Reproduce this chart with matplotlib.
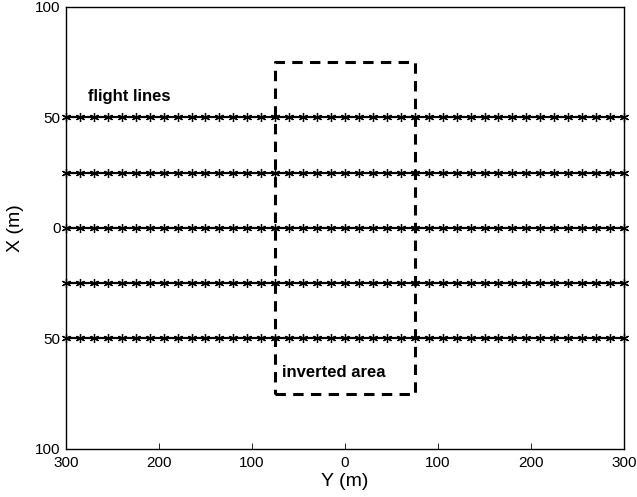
import matplotlib
matplotlib.use("Agg")
import matplotlib.pyplot as plt
import numpy as np

plt.rcParams["font.family"] = ["Liberation Sans", "DejaVu Sans"]

# survey geometry (m)
line_x = [-50, -25, 0, 25, 50]          # flight line positions along X
station_y = np.arange(-300, 301, 15)    # measurement stations along each line
area_y = [-75, 75]                      # inverted area, Y extent
area_x = [-75, 75]                      # inverted area, X extent

xticks = [-300, -200, -100, 0, 100, 200, 300]
yticks = [-100, -50, 0, 50, 100]

fig = plt.figure(figsize=(6.37, 4.97), dpi=100)
ax = fig.add_axes([0.1036, 0.0966, 0.876, 0.8894])

for xl in line_x:
    ax.plot(station_y, np.full_like(station_y, xl, dtype=float), color="black",
            lw=1.6, marker=(6, 2, 0), ms=6.5, mew=0.9, clip_on=False)

ax.plot([area_y[0], area_y[1], area_y[1], area_y[0], area_y[0]],
        [area_x[0], area_x[0], area_x[1], area_x[1], area_x[0]],
        color="black", lw=2.2, ls=(0, (3.4, 2.4)))

ax.text(-276, 59.5, "flight lines", fontsize=12, fontweight="bold", va="center")
ax.text(-68, -65.5, "inverted area", fontsize=12, fontweight="bold", va="center")

ax.set_xlim(-300, 300)
ax.set_ylim(-100, 100)
ax.set_xticks(xticks)
ax.set_xticklabels([f"{abs(t)}" for t in xticks])
ax.set_yticks(yticks)
ax.set_yticklabels([f"{abs(t)}" for t in yticks])
ax.tick_params(direction="in", length=4, width=0.6, labelsize=11, pad=4)
ax.tick_params(axis="x", pad=5)
ax.set_xlabel("Y (m)", fontsize=14, labelpad=2)
ax.set_ylabel("X (m)", fontsize=14, labelpad=8)
for s in ax.spines.values():
    s.set_linewidth(1.0)

fig.savefig("out.png", dpi=100)
